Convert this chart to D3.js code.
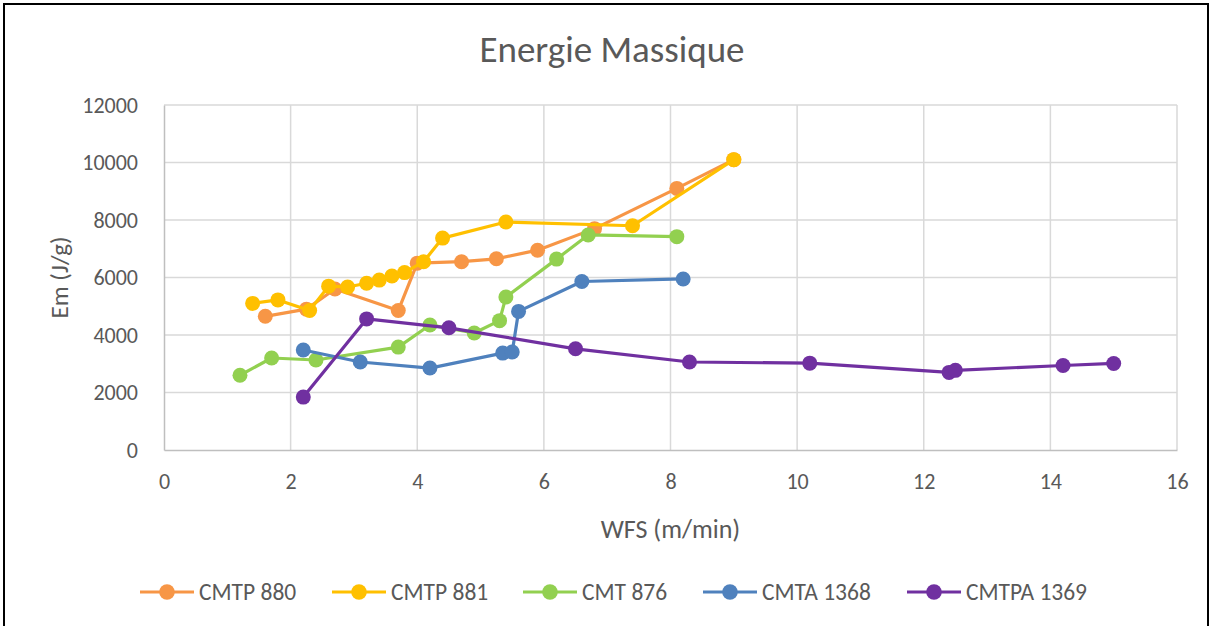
<!DOCTYPE html>
<html>
<head>
<meta charset="utf-8">
<script src="https://cdn.jsdelivr.net/npm/d3@7"></script>
<style>
  body { margin: 0; background: #fff; }
  svg text { font-family: Carlito, Calibri, "Liberation Sans", sans-serif; fill: #595959; }
</style>
</head>
<body>
<div id="chart"></div>
<script>
// data
const names = ["CMTP 880", "CMTP 881", "CMT 876", "CMTA 1368", "CMTPA 1369"];
const colors = ["#F79646", "#FFC000", "#92D050", "#4F81BD", "#7030A0"];

const cmtp880X = [1.6, 2.25, 2.7, 3.7, 4.0, 4.7, 5.25, 5.9, 6.8, 8.1, 9.0];
const cmtp880Y = [4650, 4900, 5600, 4850, 6500, 6550, 6650, 6950, 7700, 9100, 10100];

const cmtp881X = [1.4, 1.8, 2.3, 2.6, 2.9, 3.2, 3.4, 3.6, 3.8, 4.1, 4.4, 5.4, 7.4, 9.0];
const cmtp881Y = [5100, 5220, 4850, 5700, 5670, 5800, 5910, 6050, 6170, 6550, 7370, 7930, 7800, 10100];

const cmt876X = [1.2, 1.7, 2.4, 3.7, 4.2, 4.9, 5.3, 5.4, 6.2, 6.7, 8.1];
const cmt876Y = [2600, 3200, 3130, 3580, 4350, 4070, 4500, 5320, 6640, 7480, 7420];

const cmta1368X = [2.2, 3.1, 4.2, 5.35, 5.5, 5.6, 6.6, 8.2];
const cmta1368Y = [3480, 3060, 2850, 3370, 3410, 4820, 5860, 5950];

const cmtpa1369X = [2.2, 3.2, 4.5, 6.5, 8.3, 10.2, 12.4, 12.5, 14.2, 15.0];
const cmtpa1369Y = [1840, 4560, 4250, 3520, 3060, 3020, 2700, 2770, 2940, 3010];

const xTicks = [0, 2, 4, 6, 8, 10, 12, 14, 16];
const yTicks = [0, 2000, 4000, 6000, 8000, 10000, 12000];

const seriesX = [cmtp880X, cmtp881X, cmt876X, cmta1368X, cmtpa1369X];
const seriesY = [cmtp880Y, cmtp881Y, cmt876Y, cmta1368Y, cmtpa1369Y];
const series = names.map((name, i) => ({
    name,
    color: colors[i],
    points: seriesX[i].map((x, j) => ({ x, y: seriesY[i][j] }))
}));

const width = 1212, height = 626;
const margins = { left: 164, right: 35, top: 105, bottom: 176 };
const boundWidth = width - margins.left - margins.right;
const boundHeight = height - margins.top - margins.bottom;

const svg = d3.select("#chart").append("svg")
    .attr("width", width).attr("height", height);

// outer frame
svg.append("rect")
    .attr("x", 4).attr("y", 4)
    .attr("width", 1204).attr("height", 700)
    .attr("fill", "none").attr("stroke", "#000").attr("stroke-width", 2);

svg.append("text")
    .attr("x", 612).attr("y", 62)
    .attr("text-anchor", "middle")
    .style("font-size", "37px")
    .text("Energie Massique");

const bound = svg.append("g")
    .attr("transform", `translate(${margins.left},${margins.top})`);

const xScale = d3.scaleLinear().domain([0, 16]).range([0, boundWidth]);
const yScale = d3.scaleLinear().domain([0, 12000]).range([boundHeight, 0]);

// gridlines
bound.append("g").selectAll("line").data(yTicks.filter(t => t > 0)).join("line")
    .attr("x1", 0).attr("x2", boundWidth)
    .attr("y1", d => yScale(d)).attr("y2", d => yScale(d))
    .attr("stroke", "#d9d9d9").attr("stroke-width", 1.5);
bound.append("g").selectAll("line").data(xTicks.filter(t => t > 0)).join("line")
    .attr("x1", d => xScale(d)).attr("x2", d => xScale(d))
    .attr("y1", 0).attr("y2", boundHeight)
    .attr("stroke", "#d9d9d9").attr("stroke-width", 1.5);

// axes
const xAxis = bound.append("g")
    .attr("transform", `translate(0,${boundHeight})`)
    .call(d3.axisBottom(xScale).tickValues(xTicks).tickFormat(d3.format("d")).tickSize(0).tickPadding(23));
const yAxis = bound.append("g")
    .call(d3.axisLeft(yScale).tickValues(yTicks).tickFormat(d3.format("d")).tickSize(0).tickPadding(26));
[xAxis, yAxis].forEach(ax => {
    ax.select(".domain").attr("stroke", "#bfbfbf").attr("stroke-width", 1.5);
    ax.selectAll("text").style("font-size", "22px").attr("fill", "#595959");
});

svg.append("text")
    .attr("transform", `translate(68,${margins.top + boundHeight / 2}) rotate(-90)`)
    .attr("text-anchor", "middle")
    .style("font-size", "25px")
    .text("Em (J/g)");
svg.append("text")
    .attr("x", margins.left + boundWidth / 2).attr("y", 538)
    .attr("text-anchor", "middle")
    .style("font-size", "26px")
    .text("WFS (m/min)");

// series
const line = d3.line().x(d => xScale(d.x)).y(d => yScale(d.y));
const groups = bound.selectAll(".series").data(series).join("g").attr("class", "series");
groups.append("path")
    .attr("d", d => line(d.points))
    .attr("fill", "none")
    .attr("stroke", d => d.color)
    .attr("stroke-width", 3.2)
    .attr("stroke-linejoin", "round");
groups.selectAll("circle").data(d => d.points.map(p => ({ ...p, color: d.color }))).join("circle")
    .attr("cx", d => xScale(d.x))
    .attr("cy", d => yScale(d.y))
    .attr("r", 7.5)
    .attr("fill", d => d.color);

// legend
const legendX = [140, 332, 523, 703, 907];
const legend = svg.append("g").attr("transform", "translate(0,592)");
const items = legend.selectAll("g").data(series).join("g")
    .attr("transform", (d, i) => `translate(${legendX[i]},0)`);
items.append("line")
    .attr("x1", 0).attr("x2", 54)
    .attr("stroke", d => d.color).attr("stroke-width", 3.2);
items.append("circle")
    .attr("cx", 27).attr("r", 7.8)
    .attr("fill", d => d.color);
items.append("text")
    .attr("x", 59).attr("y", 8)
    .style("font-size", "23.5px")
    .text(d => d.name);
</script>
</body>
</html>
